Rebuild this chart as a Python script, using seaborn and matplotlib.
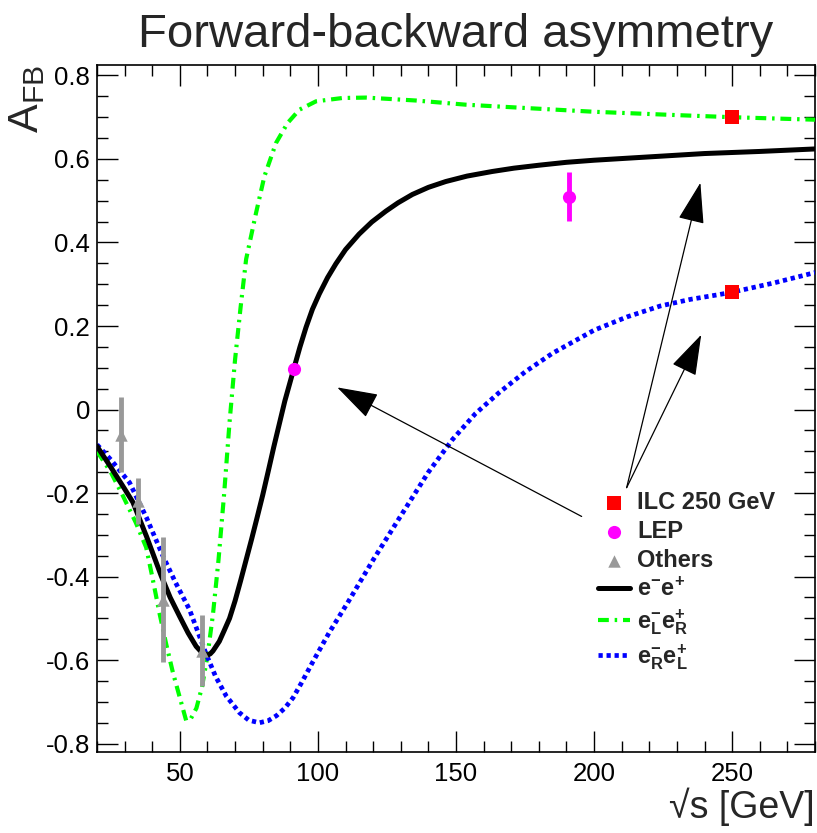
import matplotlib
matplotlib.use("Agg")
import matplotlib.pyplot as plt
from matplotlib.ticker import MultipleLocator, FuncFormatter
import pandas as pd
import seaborn as sns

# ── Curves ───────────────────────────────────────────────────
energy_ee = [20, 25, 30, 33, 38, 43.3, 46.5, 49.9, 53, 55.9, 58, 60, 61, 62, 63, 64.3,
             66, 68, 70, 72, 74, 76, 78, 80, 82, 84, 86, 88, 91.2, 93.5, 95.7, 98, 100.5,
             103.5, 106.5, 110, 114.9, 119.5, 124.6, 129, 134.2, 140, 146.3, 154, 163.1,
             171, 180, 190, 200, 220, 240, 260, 280]
afb_ee = [-0.088, -0.138, -0.19, -0.222, -0.305, -0.399, -0.45, -0.495, -0.535, -0.567,
          -0.582, -0.588, -0.585, -0.578, -0.568, -0.555, -0.53, -0.50, -0.458, -0.41,
          -0.36, -0.31, -0.258, -0.205, -0.148, -0.09, -0.035, 0.02, 0.096, 0.15, 0.197,
          0.24, 0.277, 0.316, 0.349, 0.383, 0.42, 0.449, 0.475, 0.495, 0.515, 0.532,
          0.546, 0.559, 0.57, 0.578, 0.585, 0.592, 0.597, 0.605, 0.613, 0.618, 0.624]

energy_lr = [20, 25, 29.4, 34, 37.8, 40, 42.7, 45, 47.5, 50, 52.3, 54, 56, 58, 60, 62,
             64, 66, 68, 70, 72, 74, 77.6, 80.6, 84.8, 89, 93.3, 99.3, 108.9, 117.4,
             135.4, 153.5, 164.3, 200, 230, 250, 280]
afb_lr = [-0.10, -0.15, -0.207, -0.27, -0.33, -0.40, -0.49, -0.56, -0.63, -0.69, -0.745,
          -0.74, -0.715, -0.665, -0.59, -0.49, -0.36, -0.205, -0.03, 0.12, 0.245, 0.36,
          0.471, 0.558, 0.638, 0.686, 0.718, 0.738, 0.746, 0.747, 0.74, 0.73, 0.726,
          0.713, 0.705, 0.70, 0.694]

energy_rl = [20, 25, 31.8, 38, 43.9, 48.5, 53.5, 59.5, 63, 66.8, 71.6, 75, 78.8, 82, 85,
             88, 91, 94, 98, 104, 111, 120, 129, 140, 148.7, 157, 165.5, 175, 185, 200,
             212, 224, 235, 245, 250, 265, 280]
afb_rl = [-0.084, -0.12, -0.175, -0.26, -0.351, -0.415, -0.479, -0.585, -0.64, -0.686,
          -0.726, -0.744, -0.75, -0.745, -0.733, -0.715, -0.69, -0.655, -0.606, -0.535,
          -0.46, -0.36, -0.265, -0.15, -0.072, -0.01, 0.04, 0.09, 0.135, 0.19, 0.222,
          0.248, 0.264, 0.275, 0.281, 0.303, 0.328]

# ── Measurements ─────────────────────────────────────────────
ilc_energy = [250, 250]
ilc_afb = [0.70, 0.281]

lep_energy = [91.2, 191]
lep_afb = [0.096, 0.51]
lep_err = [0.0, 0.058]

other_energy = [28.8, 34.8, 43.9, 58.0]
other_afb = [-0.06, -0.219, -0.455, -0.578]
other_err = [0.09, 0.055, 0.15, 0.085]

legend_labels = ["ILC 250 GeV", "LEP", "Others",
                 r"$\mathbf{e^{-}e^{+}}$",
                 r"$\mathbf{e^{-}_{L}e^{+}_{R}}$",
                 r"$\mathbf{e^{-}_{R}e^{+}_{L}}$"]

# ── Style ────────────────────────────────────────────────────
sns.set_theme(style="ticks")
plt.rcParams.update({
    "font.family": ["Liberation Sans", "DejaVu Sans"],
    "mathtext.fontset": "custom",
    "mathtext.rm": "Liberation Sans",
    "mathtext.it": "Liberation Sans:italic",
    "mathtext.bf": "Liberation Sans:bold",
    "axes.edgecolor": "black",
    "axes.linewidth": 1.2,
})

fig = plt.figure(figsize=(8.17, 8.33), dpi=100)
ax = fig.add_axes([97 / 817, 81 / 833, 718 / 817, 687 / 833])

# markers first so the legend keeps this order
sns.scatterplot(x=ilc_energy, y=ilc_afb, marker="s", s=100, color="#ff0000",
                linewidth=0, label=legend_labels[0], ax=ax, zorder=6)
ax.errorbar(lep_energy, lep_afb, yerr=lep_err, fmt="none", ecolor="#ff00ff",
            elinewidth=3.5, capsize=0, zorder=5)
sns.scatterplot(x=lep_energy, y=lep_afb, marker="o", s=90, color="#ff00ff",
                linewidth=0, label=legend_labels[1], ax=ax, zorder=6)
ax.errorbar(other_energy, other_afb, yerr=other_err, fmt="none", ecolor="#999999",
            elinewidth=3.5, capsize=0, zorder=5)
sns.scatterplot(x=other_energy, y=other_afb, marker="^", s=80, color="#999999",
                linewidth=0, label=legend_labels[2], ax=ax, zorder=6)

ee = pd.DataFrame({"energy": energy_ee, "afb": afb_ee})
lr = pd.DataFrame({"energy": energy_lr, "afb": afb_lr})
rl = pd.DataFrame({"energy": energy_rl, "afb": afb_rl})

sns.lineplot(data=ee, x="energy", y="afb", sort=False, estimator=None, color="black",
             linewidth=3.6, label=legend_labels[3], ax=ax, zorder=4)
sns.lineplot(data=lr, x="energy", y="afb", sort=False, estimator=None, color="#00ff00",
             linewidth=3.0, linestyle=(0, (2.6, 1.4, 0.6, 1.4)),
             label=legend_labels[4], ax=ax, zorder=3)
sns.lineplot(data=rl, x="energy", y="afb", sort=False, estimator=None, color="#0000ff",
             linewidth=3.4, linestyle=(0, (0.9, 0.8)),
             label=legend_labels[5], ax=ax, zorder=3)

# ── Arrows from legend to points ─────────────────────────────
arrow_kw = dict(arrowstyle="-|>,head_length=1.3,head_width=0.42", color="black",
                lw=0.9, shrinkA=0, shrinkB=0, mutation_scale=20)
ax.annotate("", xy=(238.5, 0.543), xytext=(211.8, -0.187), arrowprops=arrow_kw)
ax.annotate("", xy=(238.8, 0.179), xytext=(211.8, -0.187), arrowprops=arrow_kw)
ax.annotate("", xy=(107.0, 0.053), xytext=(195.5, -0.256), arrowprops=arrow_kw)

# ── Axes ─────────────────────────────────────────────────────
ax.set_xlim(20, 280)
ax.set_ylim(-0.82, 0.825)
ax.xaxis.set_major_locator(MultipleLocator(50))
ax.xaxis.set_minor_locator(MultipleLocator(10))
ax.yaxis.set_major_locator(MultipleLocator(0.2))
ax.yaxis.set_minor_locator(MultipleLocator(0.05))


def fmt_y(v, pos):
    if abs(v) < 1e-9:
        return "0"
    return f"{round(v, 1):g}"


ax.yaxis.set_major_formatter(FuncFormatter(fmt_y))
ax.tick_params(which="both", direction="in", top=True, right=True, bottom=True,
               left=True, width=1.0, color="black", labelcolor="black", labelsize=18.5)
ax.tick_params(which="major", length=15)
ax.tick_params(which="minor", length=8)
ax.tick_params(axis="x", pad=7)
ax.tick_params(axis="y", pad=5)
for sp in ax.spines.values():
    sp.set_visible(True)
    sp.set_linewidth(1.2)
    sp.set_color("black")

ax.set_xlabel("√s [GeV]", fontsize=27, loc="right")
ax.xaxis.set_label_coords(1.0, -0.052)
ax.set_ylabel(r"$\mathregular{A_{FB}}$", fontsize=31, loc="top")
ax.yaxis.set_label_coords(-0.07, 1.0)

handles, labels = ax.get_legend_handles_labels()
ax.legend(handles, labels, loc="upper left", bbox_to_anchor=(0.698, 0.38),
          frameon=False, prop=dict(weight="bold", size=17), handlelength=1.35,
          handletextpad=0.3, labelspacing=0.25, borderpad=0, borderaxespad=0)

fig.text(456 / 817, 1 - 47 / 833, "Forward-backward asymmetry", ha="center",
         va="baseline", fontsize=34)

fig.savefig("out.png", dpi=100)
